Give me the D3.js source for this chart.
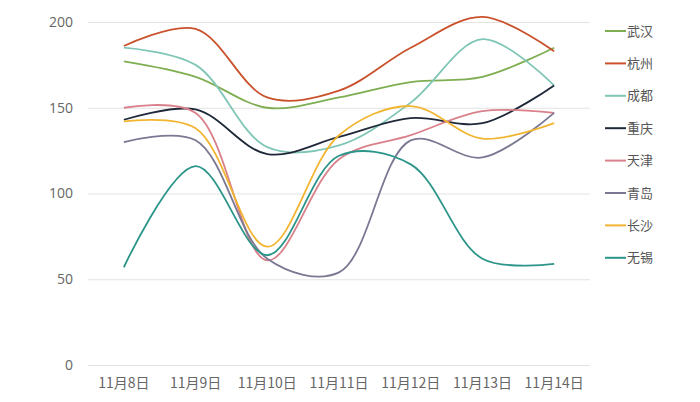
<!DOCTYPE html>
<html><head><meta charset="utf-8">
<script src="https://cdn.jsdelivr.net/npm/d3@7/dist/d3.min.js"></script>
<style>body{margin:0;background:#fff;font-family:"Noto Sans CJK SC","Noto Sans",sans-serif;}</style>
</head><body><svg id="c" width="700" height="402"></svg>
<script>
const categories = ["11月8日","11月9日","11月10日","11月11日","11月12日","11月13日","11月14日"];
const seriesNames = ["武汉","杭州","成都","重庆","天津","青岛","长沙","无锡"];
const wuhan    = [177,168,150,156,165,168,185];
const hangzhou = [186,196,156,160,185,203,183];
const chengdu  = [185,175,127,128,153,190,163];
const chongqing= [143,149,123,133,144,141,163];
const tianjin  = [150,147,61,120,134,148,147];
const qingdao  = [130,131,62,54,131,121,147];
const changsha = [142,138,69,134,151,132,141];
const wuxi     = [57,116,64,122,117,62,59];
const yTicks = [0,50,100,150,200];
const colors = ["#7fae52","#c9522c","#80c6b6","#1e2838","#d9808a","#7a7892","#f2b530","#2b958a"];

const data = [wuhan,hangzhou,chengdu,chongqing,tianjin,qingdao,changsha,wuxi];
const svg = d3.select("#c");
const x = d3.scaleBand().domain(categories).range([88,590]);
const y = d3.scaleLinear().domain([0,200]).range([365,22]);

const gy = svg.append("g").attr("transform","translate(88,0)")
  .call(d3.axisLeft(y).tickValues(yTicks).tickSize(-502).tickPadding(15));
gy.select(".domain").remove();
gy.selectAll("line").attr("stroke","#e3e3e3").attr("stroke-width",1);
gy.selectAll("text").attr("fill","#666").style("font-size","14px").style("font-family","'Open Sans','Noto Sans',sans-serif");

const gx = svg.append("g").attr("transform","translate(0,365)")
  .call(d3.axisBottom(x).tickSize(0).tickPadding(13));
gx.select(".domain").remove();
gx.selectAll("text").attr("fill","#666").style("font-size","14px").style("font-family","'Noto Sans CJK SC',sans-serif");

const line = d3.line()
  .x((d,i)=>x(categories[i])+x.bandwidth()/2)
  .y(d=>y(d))
  .curve(d3.curveCatmullRom.alpha(0.5));

data.forEach((s,k)=>{
  svg.append("path").attr("d",line(s)).attr("fill","none")
    .attr("stroke",colors[k]).attr("stroke-width",1.8);
});

const lg = svg.append("g");
seriesNames.forEach((n,k)=>{
  const yy = 31 + k*32.4;
  lg.append("line").attr("x1",605).attr("x2",626).attr("y1",yy).attr("y2",yy)
    .attr("stroke",colors[k]).attr("stroke-width",2);
  lg.append("text").attr("x",627).attr("y",yy).attr("dy","0.35em")
    .attr("fill","#555").style("font-size","13px").text(n);
});
</script></body></html>
